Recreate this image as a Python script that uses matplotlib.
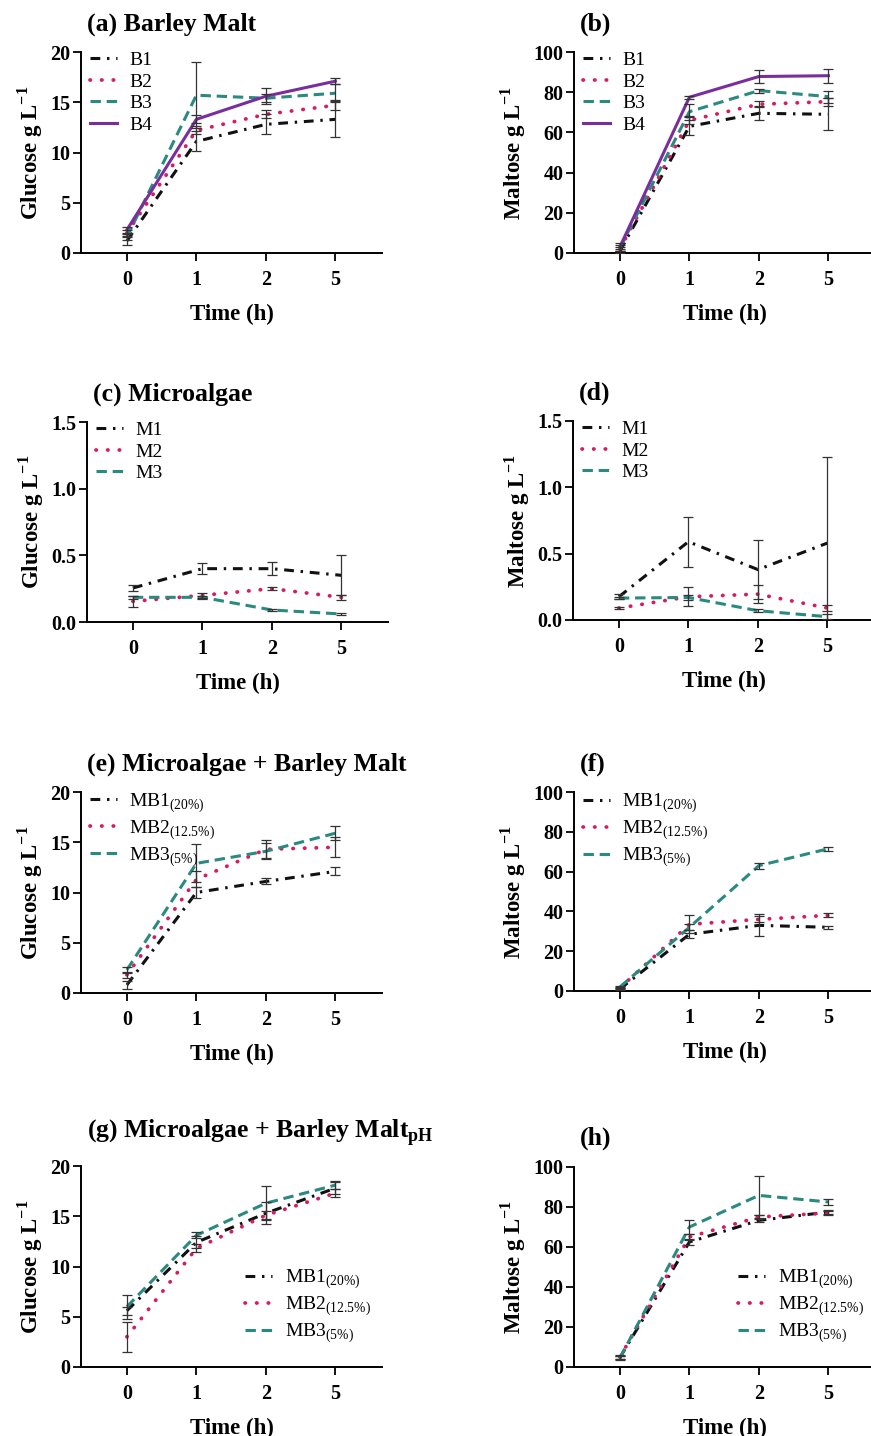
import numpy as np
import matplotlib
matplotlib.use("Agg")
import matplotlib.pyplot as plt

plt.rcParams['font.family'] = ['Liberation Serif', 'DejaVu Serif']
plt.rcParams['mathtext.fontset'] = 'custom'
plt.rcParams['mathtext.rm'] = 'Liberation Serif'
plt.rcParams['mathtext.bf'] = 'Liberation Serif:bold'

# time points (categorical axis)
time_labels = ['0', '1', '2', '5']

# (a) Barley malt - glucose
a_B1 = [1.2, 11.1, 12.8, 13.3]
a_B1_err = [0.4, 1.0, 1.0, 1.8]
a_B2 = [2.0, 12.2, 13.8, 14.7]
a_B2_err = [0.3, 0.4, 0.4, 0.5]
a_B3 = [1.6, 15.7, 15.4, 15.9]
a_B3_err = [0.3, 3.3, 0.4, 0.9]
a_B4 = [2.3, 13.3, 15.6, 17.1]
a_B4_err = [0.3, 0.4, 0.8, 0.3]

# (b) Barley malt - maltose
b_B1 = [1.0, 63.0, 69.5, 69.0]
b_B1_err = [1.0, 4.5, 3.5, 8.0]
b_B2 = [2.0, 66.0, 74.0, 75.3]
b_B2_err = [1.0, 2.0, 1.5, 2.0]
b_B3 = [2.5, 70.3, 80.8, 77.8]
b_B3_err = [1.5, 4.0, 1.0, 3.0]
b_B4 = [3.0, 77.5, 87.8, 88.2]
b_B4_err = [2.0, 0.8, 3.0, 3.5]

# (c) Microalgae - glucose
c_M1 = [0.255, 0.40, 0.40, 0.35]
c_M1_err = [0.02, 0.04, 0.05, 0.15]
c_M2 = [0.155, 0.20, 0.25, 0.185]
c_M2_err = [0.04, 0.02, 0.01, 0.02]
c_M3 = [0.185, 0.185, 0.09, 0.06]
c_M3_err = [0.01, 0.01, 0.005, 0.005]

# (d) Microalgae - maltose
d_M1 = [0.175, 0.59, 0.38, 0.58]
d_M1_err = [0.02, 0.19, 0.22, 0.65]
d_M2 = [0.09, 0.175, 0.195, 0.09]
d_M2_err = [0.01, 0.07, 0.07, 0.02]
d_M3 = [0.165, 0.17, 0.07, 0.025]
d_M3_err = [0.01, 0.02, 0.01, 0.02]

# (e) Microalgae + barley malt - glucose
e_MB1 = [0.8, 10.0, 11.1, 12.1]
e_MB1_err = [0.4, 0.5, 0.3, 0.4]
e_MB2 = [1.8, 11.3, 14.3, 14.5]
e_MB2_err = [0.3, 0.8, 0.9, 1.0]
e_MB3 = [2.3, 12.9, 14.1, 15.9]
e_MB3_err = [0.3, 1.9, 0.8, 0.7]

# (f) Microalgae + barley malt - maltose
f_MB1 = [1.0, 28.5, 33.0, 32.0]
f_MB1_err = [0.5, 2.0, 5.5, 0.8]
f_MB2 = [1.5, 33.5, 36.0, 38.0]
f_MB2_err = [0.5, 4.5, 1.5, 1.0]
f_MB3 = [2.0, 32.0, 63.0, 71.5]
f_MB3_err = [0.5, 1.5, 1.5, 1.0]

# (g) Microalgae + barley malt pH - glucose
g_MB1 = [5.6, 12.4, 15.3, 17.8]
g_MB1_err = [0.4, 0.6, 1.1, 0.6]
g_MB2 = [3.0, 11.8, 15.1, 17.3]
g_MB2_err = [1.5, 0.4, 0.4, 0.4]
g_MB3 = [6.0, 13.1, 16.3, 18.1]
g_MB3_err = [1.2, 0.3, 1.7, 0.4]

# (h) Microalgae + barley malt pH - maltose
h_MB1 = [4.7, 62.5, 73.3, 77.5]
h_MB1_err = [0.8, 1.5, 1.0, 1.0]
h_MB2 = [5.0, 65.0, 75.0, 77.0]
h_MB2_err = [0.8, 1.5, 1.0, 1.0]
h_MB3 = [4.5, 70.0, 85.8, 82.5]
h_MB3_err = [0.8, 3.5, 9.6, 1.5]

BLACK = '#111111'
PINK = '#d81b60'
TEAL = '#2a8a80'
PURPLE = '#7a2e9e'

styles = {
    'dashdot': dict(color=BLACK, lw=2.2, linestyle=(0, (3.2, 2.2, 0.8, 2.2))),
    'dot': dict(color=PINK, lw=2.7, linestyle=(0, (0.1, 3.0)), dash_capstyle='round'),
    'dash': dict(color=TEAL, lw=2.2, linestyle=(0, (3.4, 1.9))),
    'solid': dict(color=PURPLE, lw=2.2, linestyle='-'),
}

W, H = 871, 1436
fig = plt.figure(figsize=(W / 100, H / 100), dpi=100)


def make_axes(left_px, top_px, height_px=201, width_px=301):
    return fig.add_axes([left_px / W, 1 - (top_px + height_px) / H,
                         width_px / W, height_px / H])


def sub(s):
    # "MB1(20%)" -> MB1 with the bracket part as a subscript
    if '(' not in s:
        return s
    base, rest = s.split('(')
    return base + r'$_{\mathregular{(' + rest[:-1].replace('%', r'\%') + ')}}$'


def panel(ax, series, ymax, yticks, ylabel, title, title_off=20, legend_loc='upper'):
    x = np.arange(len(time_labels))
    for name, vals, errs, st in series:
        ax.errorbar(x, vals, yerr=errs, fmt='none', ecolor='#333333',
                    elinewidth=0.9, capsize=3.5, capthick=0.9, zorder=3)
        ax.plot(x, vals, label=sub(name), zorder=2, **styles[st])
    ax.set_xlim(-0.66, 3.67)
    ax.set_ylim(0, ymax)
    ax.set_xticks(x)
    ax.set_xticklabels(time_labels)
    ax.set_yticks(yticks)
    ax.set_yticklabels([('%g' % t) if ymax > 2 else ('%.1f' % t) for t in yticks])
    for s in ['top', 'right']:
        ax.spines[s].set_visible(False)
    for s in ['left', 'bottom']:
        ax.spines[s].set_linewidth(1.4)
    ax.tick_params(axis='both', length=6, width=1.3, labelsize=14.5)
    ax.tick_params(axis='x', pad=6)
    ax.tick_params(axis='y', pad=1.5)
    for lab in ax.get_xticklabels() + ax.get_yticklabels():
        lab.set_fontweight('bold')
    ax.set_xlabel('Time (h)', fontsize=16.5, fontweight='bold', labelpad=10)
    ax.set_ylabel(ylabel + r' g L$^{\mathregular{-1}}$', fontsize=16.5,
                  fontweight='bold', labelpad=4)
    ax.annotate(title, xy=(0, 1), xycoords='axes fraction', xytext=(4, title_off),
                textcoords='offset points', va='center', ha='left',
                fontsize=18.5, fontweight='bold')
    if legend_loc == 'upper':
        ax.legend(loc='upper left', bbox_to_anchor=(-0.015, 1.07), frameon=False,
                  fontsize=14, handlelength=1.4, handletextpad=0.6,
                  labelspacing=0.2, borderaxespad=0.3)
    else:
        ax.legend(loc='lower right', bbox_to_anchor=(1.01, 0.04), frameon=False,
                  fontsize=14, handlelength=1.4, handletextpad=0.7,
                  labelspacing=0.2, borderaxespad=0.3)


ax_a = make_axes(81, 52)
panel(ax_a, [('B1', a_B1, a_B1_err, 'dashdot'), ('B2', a_B2, a_B2_err, 'dot'),
             ('B3', a_B3, a_B3_err, 'dash'), ('B4', a_B4, a_B4_err, 'solid')],
      20, [0, 5, 10, 15, 20], 'Glucose', '(a) Barley Malt')

ax_b = make_axes(574, 52)
panel(ax_b, [('B1', b_B1, b_B1_err, 'dashdot'), ('B2', b_B2, b_B2_err, 'dot'),
             ('B3', b_B3, b_B3_err, 'dash'), ('B4', b_B4, b_B4_err, 'solid')],
      100, [0, 20, 40, 60, 80, 100], 'Maltose', '(b)')

ax_c = make_axes(87, 422, 200)
panel(ax_c, [('M1', c_M1, c_M1_err, 'dashdot'), ('M2', c_M2, c_M2_err, 'dot'),
             ('M3', c_M3, c_M3_err, 'dash')],
      1.5, [0, 0.5, 1.0, 1.5], 'Glucose', '(c) Microalgae')

ax_d = make_axes(573, 421, 199)
panel(ax_d, [('M1', d_M1, d_M1_err, 'dashdot'), ('M2', d_M2, d_M2_err, 'dot'),
             ('M3', d_M3, d_M3_err, 'dash')],
      1.5, [0, 0.5, 1.0, 1.5], 'Maltose', '(d)')

ax_e = make_axes(81, 792)
panel(ax_e, [('MB1(20%)', e_MB1, e_MB1_err, 'dashdot'), ('MB2(12.5%)', e_MB2, e_MB2_err, 'dot'),
             ('MB3(5%)', e_MB3, e_MB3_err, 'dash')],
      20, [0, 5, 10, 15, 20], 'Glucose', '(e) Microalgae + Barley Malt')

ax_f = make_axes(574, 792, 199)
panel(ax_f, [('MB1(20%)', f_MB1, f_MB1_err, 'dashdot'), ('MB2(12.5%)', f_MB2, f_MB2_err, 'dot'),
             ('MB3(5%)', f_MB3, f_MB3_err, 'dash')],
      100, [0, 20, 40, 60, 80, 100], 'Maltose', '(f)')

ax_g = make_axes(81, 1166)
panel(ax_g, [('MB1(20%)', g_MB1, g_MB1_err, 'dashdot'), ('MB2(12.5%)', g_MB2, g_MB2_err, 'dot'),
             ('MB3(5%)', g_MB3, g_MB3_err, 'dash')],
      20, [0, 5, 10, 15, 20], 'Glucose', r'(g) Microalgae + Barley Malt$_{\mathregular{pH}}$',
      title_off=24, legend_loc='lower')

ax_h = make_axes(574, 1167, 200)
panel(ax_h, [('MB1(20%)', h_MB1, h_MB1_err, 'dashdot'), ('MB2(12.5%)', h_MB2, h_MB2_err, 'dot'),
             ('MB3(5%)', h_MB3, h_MB3_err, 'dash')],
      100, [0, 20, 40, 60, 80, 100], 'Maltose', '(h)', title_off=21, legend_loc='lower')

fig.savefig('out.png', dpi=100)
